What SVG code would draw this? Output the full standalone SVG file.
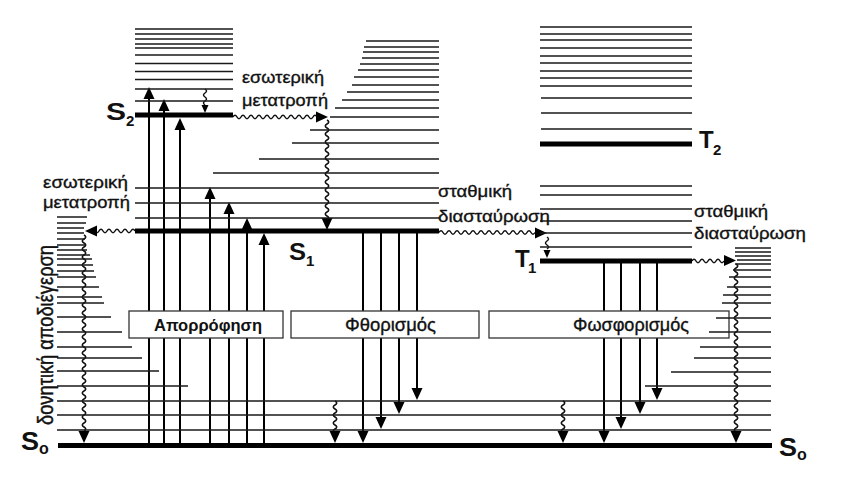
<svg xmlns="http://www.w3.org/2000/svg" width="865" height="489" viewBox="0 0 865 489">
<style>
.t{font-family:"Liberation Sans",Arial,sans-serif;fill:#111}
.r{stroke:#111;stroke-width:0.35}
.b{font-weight:bold}
.lv{fill:none;stroke:#1a1a1a;stroke-width:1.5}
.th{fill:none;stroke:#000;stroke-width:5}
.ar{fill:none;stroke:#000;stroke-width:2}
.wv{fill:none;stroke:#111;stroke-width:1.5}
.bx{fill:#fff;stroke:#333;stroke-width:1.3}
.hd{fill:#000}
</style>
<defs>
<path id="ah" d="M0,0 L-12,-5.5 L-12,5.5 Z"/>
<path id="ahs" d="M0,0 L-8,-3.5 L-8,3.5 Z"/>
</defs>
<rect width="865" height="489" fill="#fff"/>

<g id="connectors">
  <!-- absorption -->
  <path class="ar" d="M149,445V95 M164,445V107 M180,445V126 M210,445V195 M229,445V210 M247,445V226 M264,445V241"/>
  <use href="#ah" class="hd" transform="translate(149,87) rotate(-90)"/>
  <use href="#ah" class="hd" transform="translate(164,99) rotate(-90)"/>
  <use href="#ah" class="hd" transform="translate(180,118) rotate(-90)"/>
  <use href="#ah" class="hd" transform="translate(210,187) rotate(-90)"/>
  <use href="#ah" class="hd" transform="translate(229,202) rotate(-90)"/>
  <use href="#ah" class="hd" transform="translate(247,218) rotate(-90)"/>
  <use href="#ah" class="hd" transform="translate(264,233) rotate(-90)"/>
  <!-- fluorescence -->
  <path class="ar" d="M363,231V435 M381,231V421 M399,231V406 M417,231V392"/>
  <use href="#ah" class="hd" transform="translate(363,443) rotate(90)"/>
  <use href="#ah" class="hd" transform="translate(381,429) rotate(90)"/>
  <use href="#ah" class="hd" transform="translate(399,414) rotate(90)"/>
  <use href="#ah" class="hd" transform="translate(417,400) rotate(90)"/>
  <!-- phosphorescence -->
  <path class="ar" d="M604,261V435 M621,261V421 M640,261V406 M657,261V392"/>
  <use href="#ah" class="hd" transform="translate(604,443) rotate(90)"/>
  <use href="#ah" class="hd" transform="translate(621,429) rotate(90)"/>
  <use href="#ah" class="hd" transform="translate(640,414) rotate(90)"/>
  <use href="#ah" class="hd" transform="translate(657,400) rotate(90)"/>
  <!-- S2 vibrational relaxation -->
  <path class="wv" d="M205,89 q3,2 0,4 t0,4 t0,4 t0,4"/>
  <use href="#ahs" class="hd" transform="translate(205,113) rotate(90)"/>
  <!-- internal conversion S2 -> S1 -->
  <path class="wv" d="M233,117 q2,-3.5 4,0 t4,0 t4,0 t4,0 t4,0 t4,0 t4,0 t4,0 t4,0 t4,0 t4,0 t4,0 t4,0 t4,0 t4,0 t4,0 t4,0 t4,0 t4,0 t4,0 t4,0"/>
  <use href="#ah" class="hd" transform="translate(328,117)"/>
  <path class="wv" d="M327,120 q3.5,2 0,4 t0,4 t0,4 t0,4 t0,4 t0,4 t0,4 t0,4 t0,4 t0,4 t0,4 t0,4 t0,4 t0,4 t0,4 t0,4 t0,4 t0,4 t0,4 t0,4 t0,4 t0,4 t0,4 t0,4 t0,4"/>
  <use href="#ah" class="hd" transform="translate(327,230) rotate(90)"/>
  <!-- internal conversion S1 -> S0 -->
  <path class="wv" d="M135,231 q-2,-3.5 -4,0 t-4,0 t-4,0 t-4,0 t-4,0 t-4,0 t-4,0 t-4,0 t-4,0 t-4,0"/>
  <use href="#ah" class="hd" transform="translate(85,231) rotate(180)"/>
  <path class="wv" d="M84,235 q3.5,2 0,4 t0,4 t0,4 t0,4 t0,4 t0,4 t0,4 t0,4 t0,4 t0,4 t0,4 t0,4 t0,4 t0,4 t0,4 t0,4 t0,4 t0,4 t0,4 t0,4 t0,4 t0,4 t0,4 t0,4 t0,4 t0,4 t0,4 t0,4 t0,4 t0,4 t0,4 t0,4 t0,4 t0,4 t0,4 t0,4 t0,4 t0,4 t0,4 t0,4 t0,4 t0,4 t0,4 t0,4 t0,4 t0,4 t0,4 t0,4 t0,4"/>
  <use href="#ah" class="hd" transform="translate(84,443) rotate(90)"/>
  <!-- intersystem crossing S1 -> T1 -->
  <path class="wv" d="M439,232.5 q2,-3.5 4,0 t4,0 t4,0 t4,0 t4,0 t4,0 t4,0 t4,0 t4,0 t4,0 t4,0 t4,0 t4,0 t4,0 t4,0 t4,0 t4,0 t4,0 t4,0 t4,0 t4,0 t4,0 t4,0 t4,0"/>
  <use href="#ah" class="hd" transform="translate(547,233)"/>
  <path class="wv" d="M547,237 q3,2 0,4 t0,4 t0,4"/>
  <use href="#ahs" class="hd" transform="translate(547,258) rotate(90)"/>
  <!-- intersystem crossing T1 -> S0 -->
  <path class="wv" d="M692,261 q2,-3.5 4,0 t4,0 t4,0 t4,0 t4,0 t4,0 t4,0 t4,0"/>
  <use href="#ah" class="hd" transform="translate(736,260.5)"/>
  <path class="wv" d="M736,264 q3.5,2 0,4 t0,4 t0,4 t0,4 t0,4 t0,4 t0,4 t0,4 t0,4 t0,4 t0,4 t0,4 t0,4 t0,4 t0,4 t0,4 t0,4 t0,4 t0,4 t0,4 t0,4 t0,4 t0,4 t0,4 t0,4 t0,4 t0,4 t0,4 t0,4 t0,4 t0,4 t0,4 t0,4 t0,4 t0,4 t0,4 t0,4 t0,4 t0,4 t0,4 t0,4 t0,4"/>
  <use href="#ah" class="hd" transform="translate(736,443) rotate(90)"/>
  <!-- S0 vibrational relaxation -->
  <path class="wv" d="M335,401 q3.5,2 0,4 t0,4 t0,4 t0,4 t0,4 t0,4 t0,4 t0,4 M563,401 q3.5,2 0,4 t0,4 t0,4 t0,4 t0,4 t0,4 t0,4 t0,4"/>
  <use href="#ah" class="hd" transform="translate(335,443) rotate(90)"/>
  <use href="#ah" class="hd" transform="translate(563,443) rotate(90)"/>
</g>

<g id="box-absorption">
  <rect class="bx" x="129" y="311" width="154" height="27"/>
  <text class="t b" x="154" y="331" font-size="16.5" textLength="108" lengthAdjust="spacingAndGlyphs">Απορρόφηση</text>
</g>
<g id="box-fluorescence">
  <rect class="bx" x="291" y="311" width="188" height="27"/>
  <text class="t r" x="345" y="331" font-size="18" textLength="91" lengthAdjust="spacingAndGlyphs">Φθορισμός</text>
</g>
<g id="box-phosphorescence">
  <rect class="bx" x="489" y="311" width="240" height="27"/>
  <text class="t r" x="573" y="331" font-size="18" textLength="116" lengthAdjust="spacingAndGlyphs">Φωσφορισμός</text>
</g>

<g id="S0">
  <path class="lv" d="M57,217H87 M57,223H86 M57,228H84 M57,233H84 M57,239H85 M57,245H85 M57,250H87 M57,255H90 M57,259H92 M57,265H93 M57,271H94 M57,277H96 M57,287H99 M57,297H102 M57,303H104 M57,317H111 M57,332H122 M57,347H132 M57,358H142 M57,371H159 M57,386H188 M57,401H771 M57,415H771 M57,430H771 M735,248H771 M735,252H771 M735,256H771 M737,260H771 M735,264H771 M733,270H771 M729,277H771 M727,287H771 M723,295H771 M722,303H771 M716,318H771 M709,332H771 M700,347H771 M694,358H771 M671,372H771 M645,386H771"/>
  <path class="th" d="M58,445.5H772"/>
  <text class="t b" x="21" y="450" font-size="25" textLength="18" lengthAdjust="spacingAndGlyphs">S</text>
  <text class="t b" x="39" y="454" font-size="16">o</text>
  <text class="t b" x="779" y="456" font-size="25" textLength="18" lengthAdjust="spacingAndGlyphs">S</text>
  <text class="t b" x="797" y="460" font-size="16">o</text>
</g>

<g id="S1">
  <path class="lv" d="M366,41H439 M364,47H439 M363,52H439 M362,58H439 M360,64H439 M358,70H439 M354,77H439 M352,85H439 M347,92H439 M342,100H439 M335,108H439 M330,117H439 M310,130H439 M292,143H439 M259,159H439 M213,173H439 M135,188H439 M135,203H439 M135,218H439"/>
  <path class="th" d="M135,231H439"/>
  <text class="t b" x="289" y="260" font-size="24" textLength="17" lengthAdjust="spacingAndGlyphs">S</text>
  <text class="t b" x="306" y="266" font-size="15">1</text>
</g>

<g id="S2">
  <path class="lv" d="M135,29H233 M135,34H233 M135,39H233 M135,44H233 M135,48H233 M135,55H233 M135,63.5H233 M135,71.5H233 M135,79.5H233 M135,89H233 M135,101H233"/>
  <path class="th" d="M135,115H233"/>
  <text class="t b" x="106" y="120" font-size="24" textLength="20" lengthAdjust="spacingAndGlyphs">S</text>
  <text class="t b" x="126" y="126" font-size="15">2</text>
</g>

<g id="T2">
  <path class="lv" d="M540,27H692 M540,34H692 M540,40H692 M540,48H692 M540,56H692 M540,63H692 M540,71H692 M540,78H692 M540,86H692 M541,98H692 M541,113H692 M541,129H692"/>
  <path class="th" d="M540,144H692"/>
  <text class="t b" x="699" y="148" font-size="24">T</text>
  <text class="t b" x="713" y="155" font-size="15">2</text>
</g>

<g id="T1">
  <path class="lv" d="M540,186H692 M540,195H692 M540,209H692 M540,221H692 M540,233H692 M540,247H692"/>
  <path class="th" d="M540,261H692"/>
  <text class="t b" x="515" y="267" font-size="24">T</text>
  <text class="t b" x="528" y="273" font-size="15">1</text>
</g>

<g id="labels">
  <text class="t r" x="242" y="83" font-size="16.5" textLength="82" lengthAdjust="spacingAndGlyphs">εσωτερική</text>
  <text class="t r" x="242" y="106" font-size="16.5" textLength="86" lengthAdjust="spacingAndGlyphs">μετατροπή</text>
  <text class="t r" x="43" y="188" font-size="16.5" textLength="85" lengthAdjust="spacingAndGlyphs">εσωτερική</text>
  <text class="t r" x="43" y="208" font-size="16.5" textLength="87" lengthAdjust="spacingAndGlyphs">μετατροπή</text>
  <text class="t r" x="438" y="197" font-size="16.5" textLength="74" lengthAdjust="spacingAndGlyphs">σταθμική</text>
  <text class="t r" x="438" y="222" font-size="16.5" textLength="112" lengthAdjust="spacingAndGlyphs">διασταύρωση</text>
  <text class="t r" x="694" y="217" font-size="16.5" textLength="74" lengthAdjust="spacingAndGlyphs">σταθμική</text>
  <text class="t r" x="694" y="239" font-size="16.5" textLength="112" lengthAdjust="spacingAndGlyphs">διασταύρωση</text>
  <text class="t r" transform="translate(53,425) rotate(-90) scale(1,1.25)" font-size="17" textLength="180" lengthAdjust="spacingAndGlyphs">δονητική αποδιέγερση</text>
</g>
</svg>
